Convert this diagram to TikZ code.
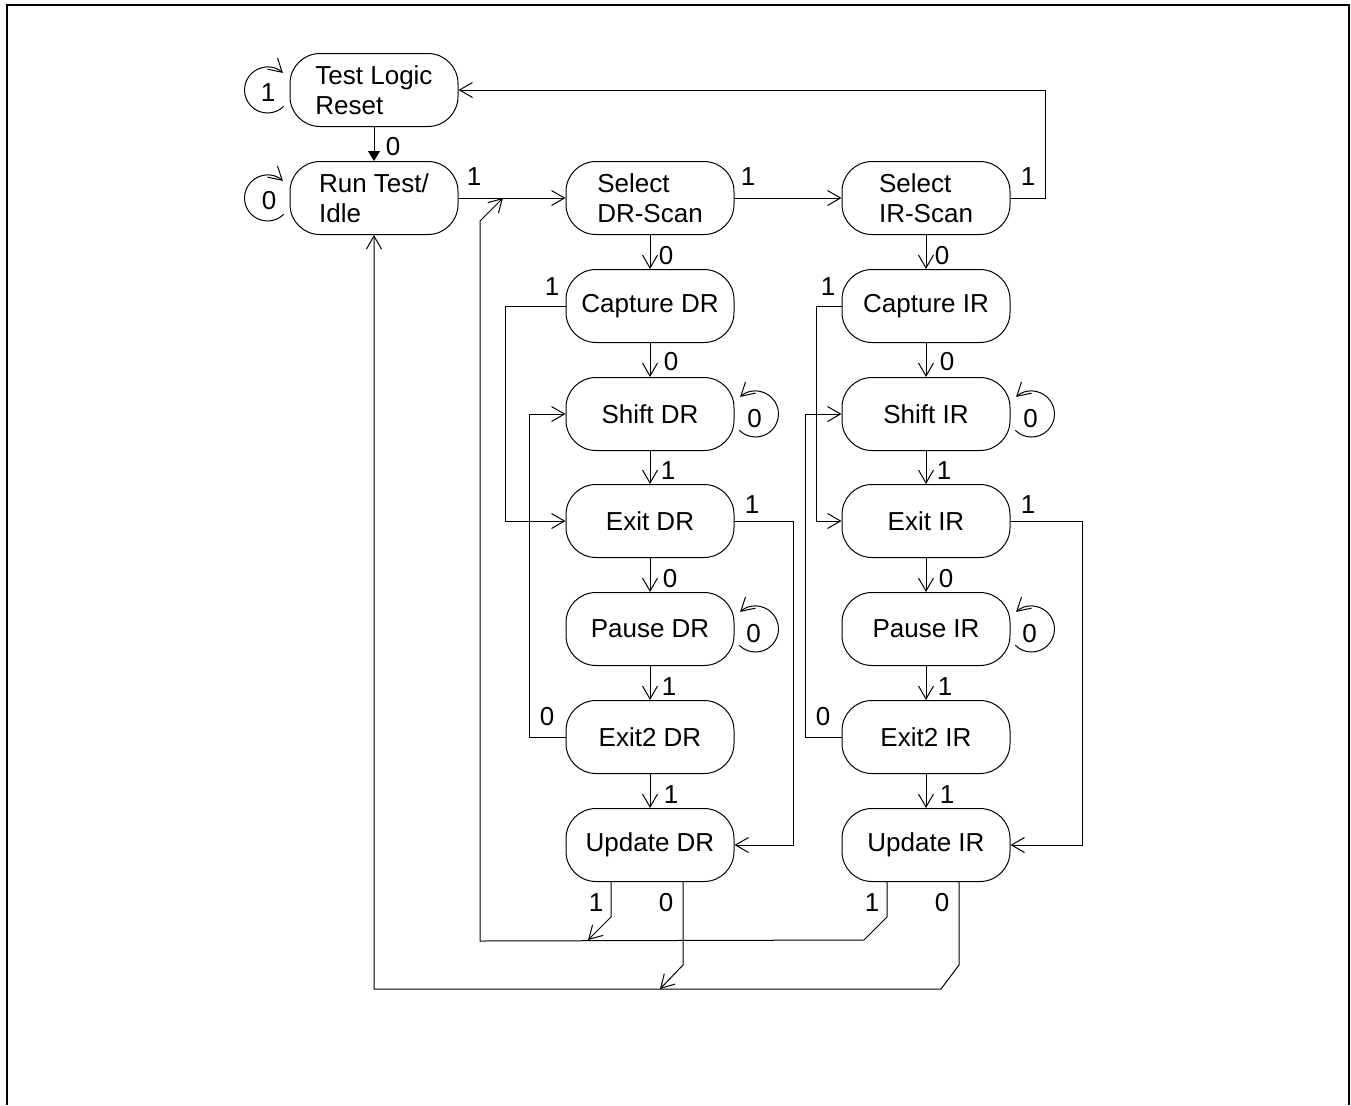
\documentclass[tikz,border=0pt]{standalone}
\usepackage{fontspec}
\setmainfont{Liberation Sans}
\usetikzlibrary{arrows.meta,calc}

\begin{document}
\begin{tikzpicture}[x=.5pt,y=-.5pt,line width=.5pt,font=\fontsize{13}{15}\selectfont,
  >={Straight Barb[length=6.5pt,width=7.5pt]},
  state/.style={draw,rounded corners=15pt,minimum width=84pt,minimum height=36.5pt,align=left,inner sep=0pt},
  lbl/.style={inner sep=0pt}]
\useasboundingbox (0,0) rectangle (1351,1105);
\draw[line width=1pt] (7,1105)--(7,5)--(1349,5)--(1349,1105);
% left column
\node[state] (tlr) at (374,90) {Test Logic\\Reset};
\node[state] (rti) at (374,198) {Run Test/\\Idle};
\node[state] (selDR) at (650,198) {Select\\DR-Scan};
\node[state] (selIR) at (926,198) {Select\\IR-Scan};
\draw[-{Triangle[length=5pt,width=6pt]}] (tlr) -- (rti);
\draw[->] (rti) -- (selDR);
\draw[->] (selDR) -- (selIR);
\draw[->] (selIR.east) -- ++(35,0) |- (tlr.east);
\draw[->] ($(tlr.west)+(-22,0)+(45:23)$) arc[start angle=45,end angle=312,radius=23];
\draw[->] ($(rti.west)+(-22,0)+(45:23)$) arc[start angle=45,end angle=312,radius=23];
\node[lbl] (ltlr) at (268,93) {1};
\node[lbl] (lrti) at (269,201) {0};
\node[lbl] (l0) at (393,147) {0};
\node[lbl] (l1) at (474,177) {1};
\node[lbl] (l2) at (748,177) {1};
\node[lbl] (l3) at (1028,177) {1};
% DR and IR columns
\foreach \c/\x/\a/\b/\r in {DR/650/60/36/59,IR/926/25/36/72}{
  \node[state] (cap\c) at (\x,306) {Capture \c};
  \node[state] (shift\c) at (\x,414) {Shift \c};
  \node[state] (exit\c) at (\x,521) {Exit \c};
  \node[state] (pause\c) at (\x,629) {Pause \c};
  \node[state] (exittwo\c) at (\x,737) {Exit2 \c};
  \node[state] (upd\c) at (\x,845) {Update \c};
  \draw[->] (sel\c) -- (cap\c);
  \draw[->] (cap\c) -- (shift\c);
  \draw[->] (shift\c) -- (exit\c);
  \draw[->] (exit\c) -- (pause\c);
  \draw[->] (pause\c) -- (exittwo\c);
  \draw[->] (exittwo\c) -- (upd\c);
  \draw[->] (cap\c.west) -- ++(-\a,0) |- (exit\c.west);
  \draw[->] (exittwo\c.west) -- ++(-\b,0) |- (shift\c.west);
  \draw[->] (exit\c.east) -- ++(\r,0) |- (upd\c.east);
  \draw[->] ($(shift\c.east)+(21,0)+(135:23)$) arc[start angle=135,end angle=-132,radius=23];
  \draw[->] ($(pause\c.east)+(21,0)+(135:23)$) arc[start angle=135,end angle=-132,radius=23];
  \node[lbl] (ls\c) at ($(shift\c.east)+(20,5)$) {0};
  \node[lbl] (lp\c) at ($(pause\c.east)+(19,5)$) {0};
  \node[lbl] (la\c) at (\x+16,256) {0};
  \node[lbl] (lb\c) at (\x-98,287) {1};
  \node[lbl] (lc\c) at (\x+21,362) {0};
  \node[lbl] (ld\c) at (\x+18,471) {1};
  \node[lbl] (le\c) at (\x+102,505) {1};
  \node[lbl] (lf\c) at (\x+20,579) {0};
  \node[lbl] (lg\c) at (\x+19,687) {1};
  \node[lbl] (lh\c) at (\x-103,717) {0};
  \node[lbl] (li\c) at (\x+21,795) {1};
  \node[lbl] (lj\c) at (\x-54,903) {1};
  \node[lbl] (lk\c) at (\x+16,903) {0};
}
% return buses
\coordinate (jone) at (503,198);
\coordinate (busone) at (480,941);
\coordinate (buszero) at (374,989);
\draw[->] ($(updIR.south)+(-39,0)$) -- ++(0,35) -- ++(-23,23) -- (busone) -- ++(0,-720) -- (jone);
\draw[->] ($(updIR.south)+(33,0)$) -- ++(0,83) -- ++(-18,24) -- (buszero) -- (rti.south);
\draw[->] ($(updDR.south)+(-39,0)$) -- ++(0,35) -- ++(-23,23);
\draw[->] ($(updDR.south)+(33,0)$) -- ++(0,83) -- ++(-23,24);
\end{tikzpicture}
\end{document}
